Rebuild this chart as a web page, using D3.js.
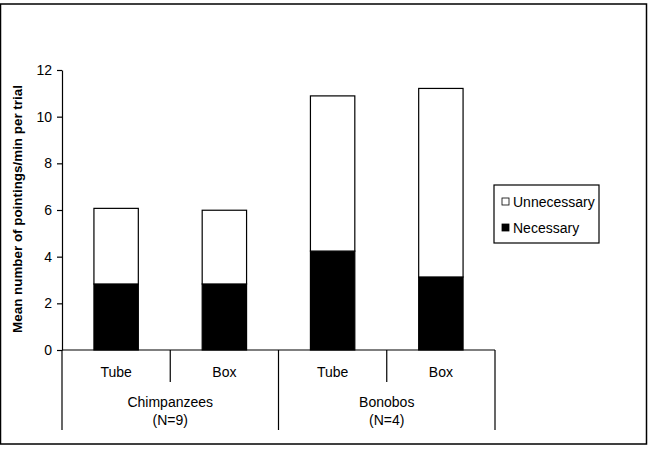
<!DOCTYPE html>
<html>
<head>
<meta charset="utf-8">
<script src="https://cdn.jsdelivr.net/npm/d3@7"></script>
<style>
  body { margin: 0; background: #fff; }
  text { font-family: "Liberation Sans", Arial, sans-serif; fill: #000; }
</style>
</head>
<body>
<div id="chart"></div>
<script>
// data
var groups = ["Chimpanzees", "Bonobos"];
var groupN = ["(N=9)", "(N=4)"];
var conditions = ["Tube", "Box"];
var necessary = [2.83, 2.83, 4.24, 3.13];
var unnecessary = [3.24, 3.16, 6.65, 8.08];
var yTicks = [0, 2, 4, 6, 8, 10, 12];
var seriesNames = ["Unnecessary", "Necessary"];

var width = 652, height = 450;

var svg = d3.select("#chart").append("svg")
    .attr("width", width)
    .attr("height", height);

// outer frame
svg.append("rect")
    .attr("x", 0.5).attr("y", 4)
    .attr("width", 646).attr("height", 440)
    .attr("fill", "none")
    .attr("stroke", "#000")
    .attr("stroke-width", 1.5);

// plot edges ("top" is a reserved window property, so use other names)
var plotLeft = 62, plotRight = 495, plotTop = 70, plotBottom = 350;

// one row per bar
var rows = [];
groups.forEach(function(g, gi) {
    conditions.forEach(function(c, ci) {
        var i = gi * conditions.length + ci;
        rows.push({ key: g + "-" + c, group: g, cond: c, Necessary: necessary[i], Unnecessary: unnecessary[i] });
    });
});

var x = d3.scaleBand()
    .domain(rows.map(function(d) { return d.key; }))
    .range([plotLeft, plotRight])
    .paddingInner(0.59)
    .paddingOuter(0.295);

var xBand = d3.scaleBand()
    .domain(rows.map(function(d) { return d.key; }))
    .range([plotLeft, plotRight]);

var xGroup = d3.scaleBand()
    .domain(groups)
    .range([plotLeft, plotRight]);

var y = d3.scaleLinear()
    .domain([0, 12])
    .range([plotBottom, plotTop]);

var stack = d3.stack().keys(["Necessary", "Unnecessary"]);
var layers = stack(rows);

svg.append("g").selectAll("g")
    .data(layers)
    .enter().append("g")
      .attr("fill", function(d) { return d.key == "Necessary" ? "#000" : "#fff"; })
    .selectAll("rect")
    .data(function(d) { return d; })
    .enter().append("rect")
      .attr("x", function(d) { return x(d.data.key); })
      .attr("y", function(d) { return y(d[1]); })
      .attr("width", x.bandwidth())
      .attr("height", function(d) { return y(d[0]) - y(d[1]); })
      .attr("stroke", "#000")
      .attr("stroke-width", 1.2);

// y axis
var yAxis = svg.append("g")
    .attr("transform", "translate(" + plotLeft + ",0)")
    .call(d3.axisLeft(y).tickValues(yTicks).tickSize(5).tickSizeOuter(0).tickPadding(5));
yAxis.selectAll("text").style("font-size", "14px").attr("font-family", null);
yAxis.selectAll("path, line").attr("stroke", "#000").attr("stroke-width", 1.2);

svg.append("text")
    .attr("transform", "translate(22," + ((plotTop + plotBottom) / 2 - 1) + ") rotate(-90)")
    .attr("text-anchor", "middle")
    .style("font-size", "13.4px")
    .style("font-weight", "bold")
    .text("Mean number of pointings/min per trial");

// category axis (two levels)
var cat = svg.append("g").attr("stroke", "#000").attr("stroke-width", 1.2);
cat.append("line")
    .attr("x1", plotLeft).attr("x2", plotRight)
    .attr("y1", plotBottom).attr("y2", plotBottom);

// dividers between conditions inside a group
rows.forEach(function(d, i) {
    if (i % conditions.length != 0) {
        cat.append("line")
            .attr("x1", xBand(d.key)).attr("x2", xBand(d.key))
            .attr("y1", plotBottom).attr("y2", 382);
    }
});
// dividers between groups
groups.concat(["end"]).forEach(function(g, i) {
    var gx = i < groups.length ? xGroup(g) : plotRight;
    cat.append("line")
        .attr("x1", gx).attr("x2", gx)
        .attr("y1", plotBottom).attr("y2", 430);
});

svg.append("g").selectAll("text")
    .data(rows)
    .enter().append("text")
      .attr("x", function(d) { return xBand(d.key) + xBand.bandwidth() / 2; })
      .attr("y", 377)
      .attr("text-anchor", "middle")
      .style("font-size", "14px")
      .text(function(d) { return d.cond; });

var gl = svg.append("g").selectAll("g")
    .data(groups)
    .enter().append("g");
gl.append("text")
    .attr("x", function(d) { return xGroup(d) + xGroup.bandwidth() / 2; })
    .attr("y", 407)
    .attr("text-anchor", "middle")
    .style("font-size", "14px")
    .text(function(d) { return d; });
gl.append("text")
    .attr("x", function(d) { return xGroup(d) + xGroup.bandwidth() / 2; })
    .attr("y", 425)
    .attr("text-anchor", "middle")
    .style("font-size", "14px")
    .text(function(d, i) { return groupN[i]; });

// legend
var legend = svg.append("g").attr("transform", "translate(494,185)");
legend.append("rect")
    .attr("width", 105).attr("height", 58)
    .attr("fill", "#fff").attr("stroke", "#000").attr("stroke-width", 1.2);
var li = legend.selectAll(".item")
    .data(seriesNames)
    .enter().append("g")
      .attr("class", "item")
      .attr("transform", function(d, i) { return "translate(8," + (17 + i * 26) + ")"; });
li.append("rect")
    .attr("x", 0).attr("y", -4)
    .attr("width", 7).attr("height", 7)
    .attr("fill", function(d) { return d == "Necessary" ? "#000" : "#fff"; })
    .attr("stroke", "#000").attr("stroke-width", 0.8);
li.append("text")
    .attr("x", 11).attr("y", 5)
    .style("font-size", "14px")
    .text(function(d) { return d; });
</script>
</body>
</html>
